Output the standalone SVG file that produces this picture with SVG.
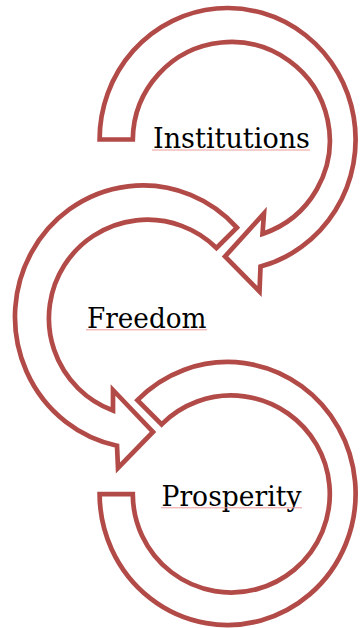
<svg xmlns="http://www.w3.org/2000/svg" width="361" height="628" viewBox="0 0 361 628">
  <style>
    .band { fill: #ffffff; stroke: #b24b48; stroke-width: 4.7; stroke-linejoin: miter; stroke-miterlimit: 10; }
    .label { font-family: "DejaVu Serif", "Liberation Serif", serif; font-size: 27px; fill: #000000; }
    .squiggle { stroke: #ec9c9c; stroke-width: 1; fill: none; }
  </style>
  <rect x="0" y="0" width="361" height="628" fill="#ffffff"/>
  <g id="node-prosperity">
    <path class="band" d="M 137.45,400.15 A 128 131.5 0 1 1 99.6,494.2 L 132.8,494.2 A 98.5 98.5 0 1 0 161.65,424.35 Z"/>
    <text class="label" x="161.5" y="505.7" textLength="140" lengthAdjust="spacingAndGlyphs">Prosperity</text>
    <line class="squiggle" x1="161" y1="507.8" x2="302" y2="507.8"/>
  </g>
  <g id="node-freedom">
    <path class="band" d="M 236.9,227.6 A 128 131.5 0 1 0 117,445.7 L 118,468 L 153,432 L 113,390 L 113,410.5 A 98.5 98.5 0 1 1 216.5,248 Z"/>
    <text class="label" x="87" y="328" textLength="119.5" lengthAdjust="spacingAndGlyphs">Freedom</text>
    <line class="squiggle" x1="86" y1="329.8" x2="207" y2="329.8"/>
  </g>
  <g id="node-institutions">
    <path class="band" d="M 99.6,139.5 A 128 131.5 0 1 1 260.5,266.6 L 259.5,291.5 L 225,256.5 L 264,213.5 L 262.5,233.9 A 98.5 98.5 0 1 0 132.8,139.5 Z"/>
    <text class="label" x="153" y="148.3" textLength="157" lengthAdjust="spacingAndGlyphs">Institutions</text>
    <line class="squiggle" x1="152" y1="150" x2="310" y2="150"/>
  </g>
</svg>
